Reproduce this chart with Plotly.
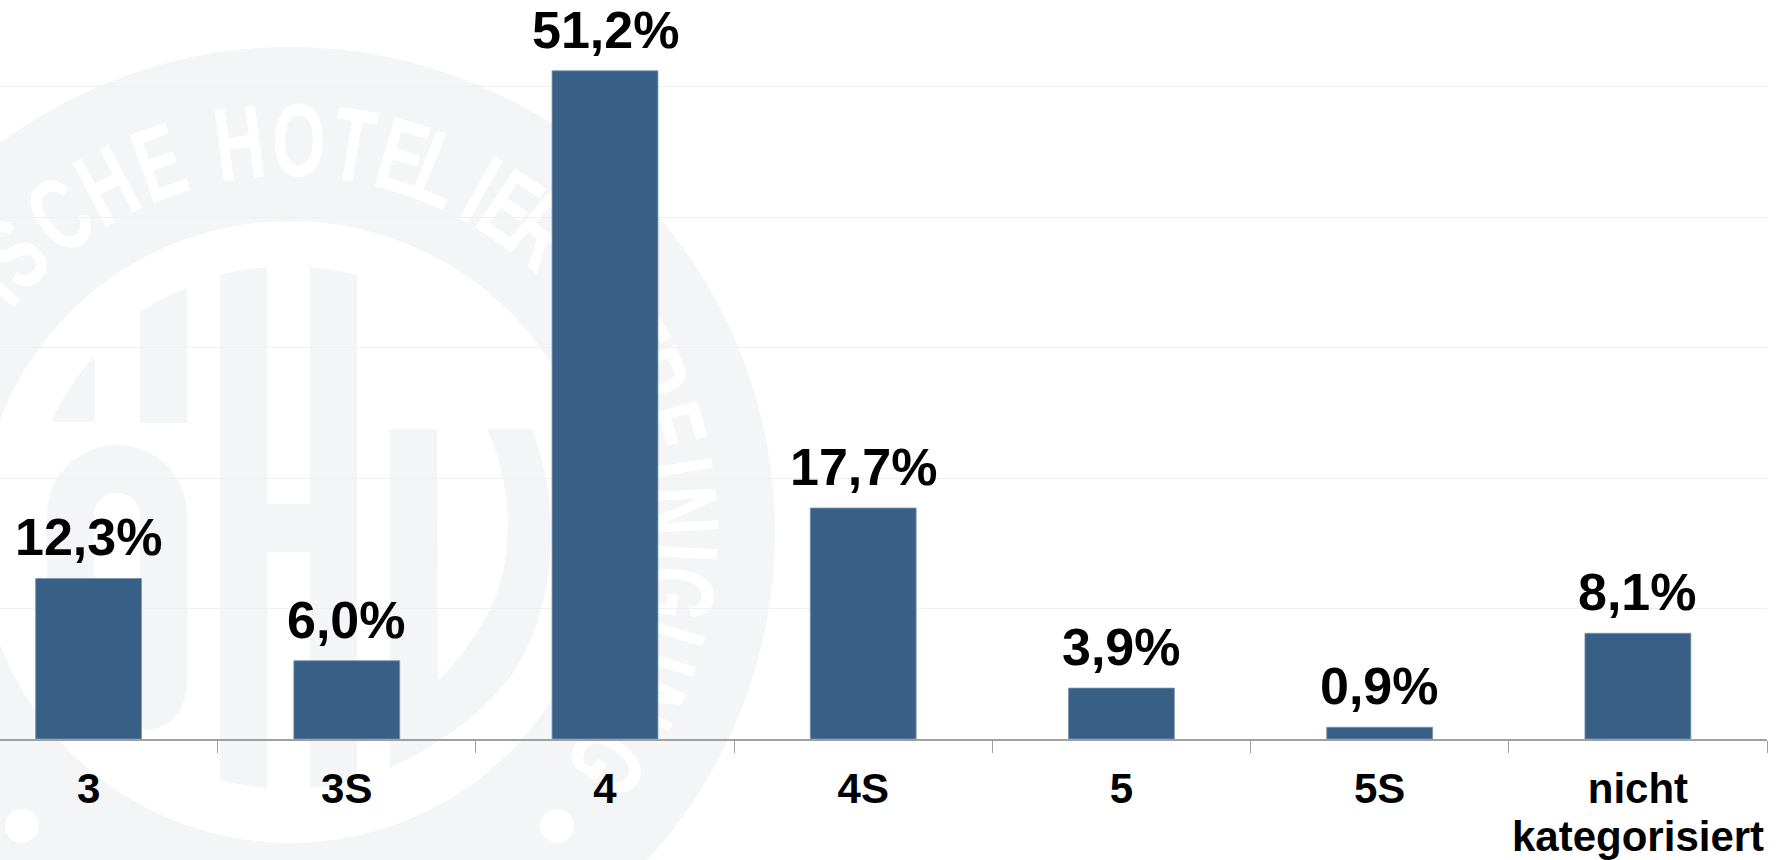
import math
import plotly.graph_objects as go

# ---- data ----
categories = ["3", "3S", "4", "4S", "5", "5S", "nicht"]
values = [12.3, 6.0, 51.2, 17.7, 3.9, 0.9, 8.1]
second_line = "kategorisiert"
ring_letters = ["T", "S", "C", "H", "E", "H", "O", "T", "E", "L", "I", "E", "R",
                "V", "E", "R", "E", "I", "N", "I", "G", "U", "N", "G"]
ring_angles = [-50, -44.7, -36, -27.8, -19.5, -7.4, 1.3, 9.3, 16.7, 22.3, 29.2, 34.2, 40,
               53, 60.4, 66.7, 74.6, 80.7, 86.9, 93, 99, 107, 115, 126]

# ---- layout constants (pixels of the 1787x860 page) ----
W, H = 1787, 860
PLOT_R, PLOT_B = 1767, 739
BAR = "#386087"
WM = "#f4f5f7"
FONT = "Liberation Sans"


def fx(px):
    return px / PLOT_R


def fy(py):
    return (PLOT_B - py) / PLOT_B


def path(*cmds):
    out = []
    for c in cmds:
        if isinstance(c, str):
            out.append(c)
        else:
            out.append(f"{fx(c[0]):.5f},{fy(c[1]):.5f}")
    return " ".join(out)


def circle(cx, cy, r, color):
    return dict(type="circle", xref="paper", yref="paper", layer="below",
                x0=fx(cx - r), x1=fx(cx + r), y0=fy(cy + r), y1=fy(cy - r),
                fillcolor=color, line=dict(width=0))


def blob(*cmds):
    return dict(type="path", xref="paper", yref="paper", layer="below",
                path=path(*cmds), fillcolor=WM, line=dict(width=0))


CX, CY = 290, 532
shapes = [circle(CX, CY, 485, WM), circle(CX, CY, 311, "#ffffff"),
          circle(22, 826, 17, "#ffffff"), circle(557, 826, 17, "#ffffff")]

# monogram
shapes += [
    blob("M", (52, 420), "C", (62, 398), (76, 378), (92, 358), "L", (95, 360), "L", (95, 422), "L", (54, 422), "Z"),
    blob("M", (140, 312), "C", (155, 302), (170, 295), (187, 288), "L", (187, 423), "L", (140, 423), "Z"),
    blob("M", (47, 735), "L", (47, 515), "C", (47, 475), (80, 445), (117, 445),
         "C", (155, 445), (187, 475), (187, 515), "L", (187, 680),
         "C", (187, 712), (170, 730), (143, 730), "L", (140, 730), "L", (140, 515),
         "C", (140, 502), (130, 493), (117, 493), "C", (104, 493), (94, 502), (94, 515),
         "L", (94, 735), "Z"),
    blob("M", (220, 275), "C", (235, 271), (250, 269), (267, 267), "L", (267, 504), "L", (310, 504),
         "L", (310, 267), "C", (327, 269), (342, 271), (357, 275), "L", (357, 780),
         "C", (342, 784), (327, 786), (310, 788), "L", (310, 552), "L", (267, 552), "L", (267, 788),
         "C", (250, 786), (235, 784), (220, 780), "Z"),
    blob("M", (390, 429), "L", (437, 429), "L", (438, 680),
         "C", (460, 660), (485, 625), (497, 593), "C", (515, 540), (510, 480), (487, 429),
         "L", (532, 429), "C", (560, 500), (560, 600), (513, 673),
         "C", (490, 705), (450, 740), (390, 768), "Z"),
]

# ring lettering, real text under the bars
RING_R = 402
for ch, a in zip(ring_letters, ring_angles):
    t = math.radians(a)
    x = CX + RING_R * math.sin(t)
    y = CY - RING_R * math.cos(t)
    shapes.append(dict(type="rect", xref="paper", yref="paper", layer="below",
                       x0=fx(x - 1), x1=fx(x + 1), y0=fy(y + 1), y1=fy(y - 1),
                       line=dict(width=0), fillcolor="rgba(0,0,0,0)",
                       label=dict(text=ch, textangle=a, textposition="middle center",
                                  font=dict(family=FONT, size=104, color="#ffffff", weight="bold"))))

fig = go.Figure(go.Bar(
    x=categories,
    y=values,
    width=0.41,
    marker=dict(color=BAR, line=dict(color="#7a93ad", width=0.8)),
    hoverinfo="skip",
))

# Category names such as "3" would be read as positions, so labels use the category index.
value_labels = [dict(text=f"{v:.1f}%".replace(".", ","), x=i, y=v, xref="x", yref="y",
                     yanchor="bottom", yshift=10, showarrow=False,
                     font=dict(family=FONT, size=52, color="#000000", weight="bold"))
                for i, v in enumerate(values)]

fig.update_layout(
    width=W, height=H,
    margin=dict(l=0, r=W - PLOT_R, t=0, b=H - PLOT_B, pad=0),
    paper_bgcolor="#ffffff", plot_bgcolor="rgba(0,0,0,0)",
    showlegend=False,
    shapes=shapes,
    annotations=value_labels + [dict(text=second_line, x=6, xref="x", y=0, yref="paper", yanchor="top",
                                     yshift=-72, showarrow=False,
                                     font=dict(family=FONT, size=42, color="#000000", weight="bold"))],
)
fig.update_xaxes(
    type="category", categoryorder="array", categoryarray=categories,
    range=[-0.343, 6.5], tickson="boundaries", ticks="outside", ticklen=12, tickwidth=1.3,
    tickcolor="#a0a0a0", showline=True, linecolor="#a0a0a0", linewidth=1.5, showgrid=False,
    ticklabelstandoff=12, fixedrange=True,
    tickfont=dict(family=FONT, size=42, color="#000000", weight="bold"),
)
fig.update_yaxes(
    range=[0, PLOT_B / 13.05], dtick=10, showticklabels=False, ticks="", showline=False,
    zeroline=False, showgrid=True, gridcolor="#f0f0f0", gridwidth=1.3, fixedrange=True,
)

# The ring lettering of the watermark is condensed; no condensed face is installed,
# so the rotated labels are narrowed in place, about their own centres.
post = """
document.body.style.margin='0';
function narrowRing(){
  document.querySelectorAll('.shapelayer text').forEach(function(t){
    if(t.getAttribute('data-narrow')) return;
    var b=t.getBBox(), cx=b.x+b.width/2, cy=b.y+b.height/2, tr=t.getAttribute('transform')||'';
    t.setAttribute('transform', tr+' translate('+cx+','+cy+') scale(0.66,1) translate('+(-cx)+','+(-cy)+')');
    t.setAttribute('data-narrow','1');
  });
}
narrowRing();
[0,50,150,400,1000].forEach(function(d){setTimeout(narrowRing,d);});
"""
fig.write_html("out.html", post_script=post, config={"displayModeBar": False})
